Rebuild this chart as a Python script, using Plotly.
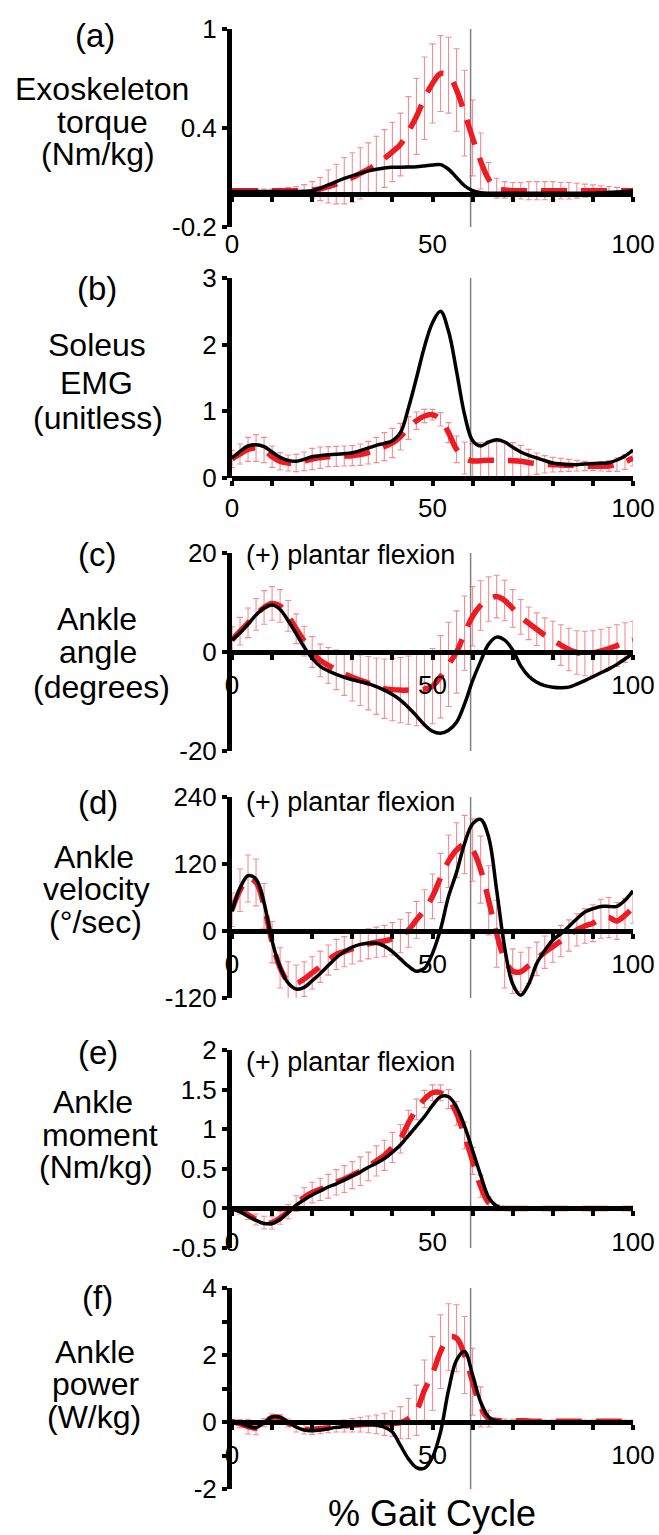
import plotly.graph_objects as go

# ---------------- data ----------------
x_pct = list(range(0, 101, 2))   # % gait cycle
toe_off = 59.5                    # vertical grey line

# (a) Exoskeleton torque (Nm/kg)
red_a = [0.02,0.02,0.02,0.02,0.02,0.02,0.02,0.02,0.02,0.022,
         0.025,0.03,0.045,0.06,0.08,0.1,0.125,0.15,0.18,0.215,
         0.255,0.3,0.38,0.47,0.58,0.67,0.73,0.72,0.63,0.49,
         0.34,0.2,0.09,0.035,0.025,0.02,0.02,0.02,0.02,0.02,
         0.02,0.02,0.02,0.02,0.02,0.02,0.02,0.02,0.02,0.02,
         0.02]
sd_a = [0.01,0.01,0.01,0.01,0.01,0.01,0.015,0.02,0.025,0.035,
        0.05,0.07,0.1,0.12,0.14,0.15,0.155,0.16,0.17,0.175,
        0.18,0.19,0.21,0.23,0.25,0.24,0.23,0.23,0.25,0.26,
        0.23,0.17,0.1,0.06,0.05,0.05,0.05,0.055,0.055,0.055,
        0.055,0.05,0.05,0.045,0.04,0.035,0.03,0.025,0.02,0.015,
        0.015]
black_a = [0.015,0.015,0.015,0.015,0.015,0.015,0.015,0.015,0.015,0.016,
           0.02,0.035,0.055,0.075,0.095,0.11,0.125,0.14,0.15,0.158,
           0.162,0.162,0.163,0.165,0.17,0.176,0.178,0.15,0.1,0.05,
           0.02,0.008,0.005,0.005,0.005,0.005,0.005,0.005,0.005,0.005,
           0.005,0.005,0.005,0.005,0.005,0.005,0.008,0.01,0.012,0.015,
           0.02]

# (b) Soleus EMG (unitless)
red_b = [0.285,0.36,0.43,0.45,0.42,0.32,0.25,0.225,0.225,0.25,
         0.285,0.305,0.32,0.325,0.33,0.335,0.35,0.38,0.42,0.47,
         0.525,0.62,0.75,0.86,0.93,0.95,0.88,0.68,0.43,0.3,
         0.255,0.26,0.265,0.265,0.265,0.26,0.25,0.23,0.215,0.205,
         0.2,0.195,0.19,0.185,0.18,0.175,0.175,0.18,0.2,0.24,
         0.3]
sd_b = [0.13,0.15,0.18,0.2,0.19,0.16,0.13,0.12,0.13,0.14,
        0.16,0.16,0.15,0.15,0.15,0.15,0.16,0.17,0.19,0.21,
        0.22,0.2,0.17,0.13,0.1,0.08,0.1,0.15,0.2,0.24,
        0.26,0.27,0.28,0.28,0.28,0.27,0.24,0.2,0.16,0.13,
        0.11,0.1,0.09,0.08,0.07,0.065,0.07,0.08,0.1,0.11,
        0.12]
black_b = [0.30,0.40,0.48,0.50,0.47,0.39,0.31,0.265,0.25,0.28,
           0.32,0.335,0.35,0.355,0.365,0.38,0.41,0.45,0.49,0.52,
           0.56,0.68,1.05,1.5,1.97,2.33,2.5,2.2,1.6,0.95,
           0.56,0.48,0.54,0.575,0.54,0.46,0.39,0.34,0.3,0.26,
           0.225,0.21,0.2,0.2,0.21,0.215,0.22,0.23,0.27,0.33,
           0.42]

# (c) Ankle angle (degrees)
red_c = [2.4,4.2,5.9,7.6,9.0,9.8,9.3,7.3,4.7,2.2,
         0.0,-1.7,-2.7,-3.6,-4.4,-5.1,-5.7,-6.3,-6.9,-7.4,
         -7.6,-7.7,-7.7,-7.7,-7.5,-6.9,-5.0,-2.5,0.0,3.8,
         7.2,9.4,10.7,11.2,10.4,8.8,7.1,5.8,4.6,3.4,
         2.4,1.4,0.5,-0.1,-0.3,-0.2,0.2,0.7,1.3,1.9,
         2.4]
sd_c = [2.7,2.8,3.0,3.2,3.4,3.4,3.3,3.1,3.0,3.0,
        3.1,3.3,3.6,4.0,4.4,4.8,5.1,5.4,5.7,6.0,
        6.3,6.6,6.9,7.2,7.4,7.6,8.3,8.5,8.3,7.5,
        6.0,5.0,4.5,4.3,4.1,3.8,3.5,3.3,3.3,3.5,
        3.8,4.1,4.3,4.4,4.5,4.5,4.4,4.3,4.2,4.0,
        3.8]
black_c = [2.4,3.9,5.6,7.5,8.9,9.5,8.6,6.3,3.7,1.0,
           -1.3,-2.9,-3.8,-4.5,-5.1,-5.6,-6.0,-6.4,-7.0,-7.7,
           -8.6,-9.7,-11.2,-12.9,-14.7,-16.0,-16.4,-15.8,-14.2,-10.5,
           -5.8,-1.9,1.6,3.0,2.4,0.4,-2.8,-4.9,-6.1,-6.8,
           -7.1,-7.2,-7.1,-6.5,-5.8,-5.0,-4.2,-3.4,-2.5,-1.4,
           -0.3]

# (d) Ankle velocity (deg/sec)
red_d = [38,73,94,87,45,-20,-66,-90,-94,-86,
         -75,-64,-52,-42,-37,-32,-27,-23,-20,-18,
         -14,-9,2,20,38,62,95,125,145,155,
         145,110,55,-5,-50,-72,-73,-62,-50,-38,
         -28,-18,-8,2,9,14,22,24,18,28,
         42]
sd_d = [30,38,42,42,40,37,36,35,33,31,
        29,28,27,27,27,27,27,27,27,28,
        29,30,31,33,36,40,44,47,49,52,
        56,60,62,60,52,40,35,32,30,29,
        28,28,28,29,31,33,35,36,33,30,
        28]
black_d = [35,77,99,93,50,-18,-65,-93,-104,-101,
           -89,-76,-62,-48,-37,-29,-24,-22,-22,-27,
           -37,-50,-63,-72,-67,-40,3,62,105,157,
           192,200,168,73,-30,-95,-115,-95,-58,-35,
           -16,-5,8,22,34,40,44,44,44,55,
           72]

# (e) Ankle moment (Nm/kg)
red_e = [0.0,-0.03,-0.08,-0.14,-0.18,-0.18,-0.12,-0.04,0.06,0.14,
         0.2,0.24,0.28,0.33,0.37,0.42,0.47,0.53,0.6,0.67,
         0.77,0.88,1.08,1.25,1.38,1.46,1.46,1.38,1.2,0.92,
         0.6,0.28,0.07,0.01,0.0,0.0,0.0,0.0,0.0,0.0,
         0.0,0.0,0.0,0.0,0.0,0.0,0.0,0.0,0.0,0.0,
         0.0]
sd_e = [0.02,0.04,0.06,0.07,0.08,0.08,0.08,0.09,0.1,0.12,
        0.13,0.14,0.15,0.16,0.17,0.17,0.18,0.18,0.19,0.19,
        0.19,0.18,0.16,0.13,0.11,0.1,0.1,0.12,0.15,0.17,
        0.17,0.14,0.08,0.04,0.02,0.015,0.015,0.015,0.015,0.015,
        0.015,0.015,0.015,0.015,0.015,0.015,0.015,0.015,0.015,0.015,
        0.015]
black_e = [0.0,-0.04,-0.1,-0.15,-0.19,-0.19,-0.14,-0.05,0.04,0.11,
           0.17,0.22,0.27,0.31,0.36,0.41,0.46,0.52,0.57,0.63,
           0.71,0.8,0.92,1.04,1.16,1.3,1.41,1.41,1.28,1.04,
           0.73,0.42,0.14,0.03,0.0,0.0,0.0,0.0,0.0,0.0,
           0.0,0.0,0.0,0.0,0.0,0.0,0.0,0.0,0.0,0.0,
           0.0]

# (f) Ankle power (W/kg)
red_f = [0.02,-0.05,-0.14,-0.18,-0.02,0.14,0.12,-0.03,-0.15,-0.21,
         -0.22,-0.2,-0.17,-0.14,-0.12,-0.1,-0.08,-0.07,-0.07,-0.07,
         -0.05,-0.02,0.1,0.35,0.95,1.45,2.1,2.53,2.5,2.0,
         1.2,0.45,0.1,0.04,0.04,0.04,0.04,0.03,0.02,0.02,
         0.02,0.02,0.02,0.02,0.02,0.02,0.02,0.02,0.02,0.02,
         0.02]
sd_f = [0.05,0.12,0.22,0.2,0.12,0.1,0.1,0.12,0.15,0.15,
        0.15,0.15,0.15,0.16,0.18,0.2,0.22,0.25,0.28,0.33,
        0.38,0.48,0.6,0.75,0.9,1.1,1.1,1.0,1.0,1.15,
        1.0,0.6,0.25,0.08,0.05,0.04,0.04,0.04,0.04,0.04,
        0.04,0.04,0.04,0.04,0.04,0.04,0.04,0.04,0.04,0.04,
        0.04]
black_f = [0.02,-0.03,-0.12,-0.17,-0.02,0.15,0.14,0.0,-0.15,-0.24,
           -0.26,-0.24,-0.2,-0.16,-0.13,-0.1,-0.08,-0.08,-0.1,-0.15,
           -0.3,-0.7,-1.1,-1.36,-1.38,-1.05,-0.3,0.95,1.85,2.1,
           1.4,0.6,0.15,0.03,0.0,0.0,0.0,0.0,0.0,0.0,
           0.0,0.0,0.0,0.0,0.0,0.0,0.0,0.0,0.0,0.0,
           0.0]

# tick labels
x_tick_vals = list(range(0, 101, 10))
x_tick_text = ["0", "", "", "", "", "50", "", "", "", "", "100"]
panel_letters = ["(a)", "(b)", "(c)", "(d)", "(e)", "(f)"]
panel_titles = [["Exoskeleton", "torque", "(Nm/kg)"],
                ["Soleus", "EMG", "(unitless)"],
                ["Ankle", "angle", "(degrees)"],
                ["Ankle", "velocity", "(°/sec)"],
                ["Ankle", "moment", "(Nm/kg)"],
                ["Ankle", "power", "(W/kg)"]]
y_ranges = [[-0.2, 1], [0, 3], [-20, 20], [-120, 240], [-0.5, 2], [-2, 4]]
y_tick_vals = [[-0.2, 0.4, 1], [0, 1, 2, 3], [-20, 0, 20], [-120, 0, 120, 240],
               [-0.5, 0, 0.5, 1, 1.5, 2], [-2, -1, 0, 1, 2, 3, 4]]
y_tick_text = [["-0.2", "0.4", "1"], ["0", "1", "2", "3"], ["-20", "0", "20"],
               ["-120", "0", "120", "240"], ["-0.5", "0", "0.5", "1", "1.5", "2"],
               ["-2", "", "0", "", "2", "", "4"]]
flexion_note = "(+) plantar flexion"
x_title = "% Gait Cycle"

reds = [red_a, red_b, red_c, red_d, red_e, red_f]
sds = [sd_a, sd_b, sd_c, sd_d, sd_e, sd_f]
blacks = [black_a, black_b, black_c, black_d, black_e, black_f]

# ---------------- layout geometry (pixels) ----------------
W, H = 659, 1535
FONT = "Liberation Sans, Arial, sans-serif"
X_LEFT, X_RIGHT = 232, 633
panel_px = [(29, 227), (278, 478), (553, 751), (797, 998), (1050, 1248), (1288, 1489)]
title_y_px = [(35, 89, 122, 154), (288, 345, 383, 418), (555, 619, 652, 687),
              (802, 857, 889, 922), (1052, 1102, 1135, 1167), (1297, 1352, 1384, 1417)]
title_x_px = [(95, 102, 102, 98), (97, 97, 96, 98), (97, 97, 98, 101),
              (98, 94, 96, 95), (98, 93, 100, 96), (97, 95, 96, 94)]
note_y_px = [None, None, 555, 802, 1062, None]
x_label_standoff = [20, 0, 3, 3, 3, 3]

def px_y(p):
    return 1 - p / H

def px_x(p):
    return p / W

RED = "rgb(237,28,36)"
ERR = "rgba(240,70,82,0.62)"

fig = go.Figure()
shapes = []
annotations = []
xdom = [px_x(X_LEFT), px_x(X_RIGHT)]

for i in range(6):
    n = "" if i == 0 else str(i + 1)
    xa, ya = "x" + n, "y" + n
    top, bot = panel_px[i]
    ydom = [px_y(bot), px_y(top)]
    ymin, ymax = y_ranges[i]
    zero_pos = ydom[0] + (0 - ymin) / (ymax - ymin) * (ydom[1] - ydom[0])

    fig.add_trace(go.Scatter(
        x=x_pct, y=reds[i], xaxis=xa, yaxis=ya, mode="lines",
        line=dict(color=RED, width=5.5, dash="26px,14px", shape="spline"),
        error_y=dict(type="data", array=sds[i], visible=True,
                     color=ERR, thickness=1.1, width=3),
        showlegend=False, hoverinfo="skip"))
    fig.add_trace(go.Scatter(
        x=x_pct, y=blacks[i], xaxis=xa, yaxis=ya, mode="lines",
        line=dict(color="black", width=3.5, shape="spline"),
        showlegend=False, hoverinfo="skip"))

    fig.layout["xaxis" + n] = dict(
        domain=xdom, range=[0, 100], anchor="free", position=zero_pos,
        showline=True, linecolor="black", linewidth=5,
        ticks="outside", ticklen=5, tickwidth=4, tickcolor="black",
        tickvals=x_tick_vals, ticktext=x_tick_text,
        tickfont=dict(family=FONT, size=26, color="black"),
        ticklabelstandoff=x_label_standoff[i], automargin=False,
        showgrid=False, zeroline=False, fixedrange=True)
    fig.layout["yaxis" + n] = dict(
        domain=ydom, range=[ymin, ymax], anchor=xa,
        showline=True, linecolor="black", linewidth=5,
        ticks="outside", ticklen=5, tickwidth=4, tickcolor="black",
        tickvals=y_tick_vals[i], ticktext=y_tick_text[i],
        tickfont=dict(family=FONT, size=26, color="black"), automargin=False,
        showgrid=False, zeroline=False, fixedrange=True)

    shapes.append(dict(type="line", xref=xa, yref=ya + " domain",
                       x0=toe_off, x1=toe_off, y0=0, y1=1,
                       line=dict(color="#808080", width=1.5), layer="below"))

    # panel letter + axis title lines
    annotations.append(dict(text=panel_letters[i], xref="paper", yref="paper",
                            x=px_x(title_x_px[i][0]), y=px_y(title_y_px[i][0]),
                            xanchor="center", yanchor="middle", showarrow=False,
                            font=dict(family=FONT, size=33, color="black")))
    for k, line in enumerate(panel_titles[i]):
        annotations.append(dict(text=line, xref="paper", yref="paper",
                                x=px_x(title_x_px[i][k + 1]), y=px_y(title_y_px[i][k + 1]),
                                xanchor="center", yanchor="middle", showarrow=False,
                                font=dict(family=FONT, size=32, color="black")))
    if note_y_px[i] is not None:
        annotations.append(dict(text=flexion_note, xref="paper", yref="paper",
                                x=px_x(244), y=px_y(note_y_px[i]),
                                xanchor="left", yanchor="middle", showarrow=False,
                                font=dict(family=FONT, size=27, color="black")))

annotations.append(dict(text=x_title, xref="paper", yref="paper",
                        x=px_x(432), y=px_y(1513), xanchor="center", yanchor="middle",
                        showarrow=False, font=dict(family=FONT, size=36, color="black")))

fig.update_layout(width=W, height=H,
                  margin=dict(l=0, r=0, t=0, b=0, autoexpand=False),
                  paper_bgcolor="white", plot_bgcolor="white",
                  shapes=shapes, annotations=annotations, showlegend=False)

fig.write_html("out.html")
